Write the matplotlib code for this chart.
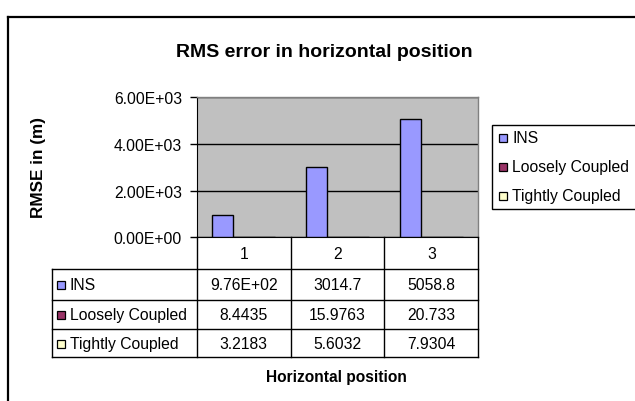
import matplotlib
matplotlib.use("Agg")
import matplotlib.pyplot as plt
from matplotlib.lines import Line2D
from matplotlib.patches import Rectangle
import matplotlib.transforms as mtransforms
import numpy as np

# ---- data ----
categories = ["1", "2", "3"]
series_names = ["INS", "Loosely Coupled", "Tightly Coupled"]
ins = [976.0, 3014.7, 5058.8]
loosely = [8.4435, 15.9763, 20.733]
tightly = [3.2183, 5.6032, 7.9304]
ins_labels = ["9.76E+02", "3014.7", "5058.8"]
loosely_labels = ["8.4435", "15.9763", "20.733"]
tightly_labels = ["3.2183", "5.6032", "7.9304"]
yticks = [0, 2000, 4000, 6000]
ytick_labels = ["0.00E+00", "2.00E+03", "4.00E+03", "6.00E+03"]
colors = ["#9999FF", "#993366", "#FFFFCC"]

W, H = 635, 402
plt.rcParams['font.family'] = ['Liberation Sans', 'DejaVu Sans']
fig = plt.figure(figsize=(W / 100, H / 100), dpi=100)
fig.patch.set_facecolor("white")

# pixel-based transform (origin top-left)
pix = mtransforms.Affine2D().scale(1.0 / W, -1.0 / H).translate(0, 1) + fig.transFigure

# outer chart border (extends beyond image on right/bottom)
fig.add_artist(Line2D([8, 8], [18, 420], transform=pix, color="black", lw=1.6))
fig.add_artist(Line2D([8, 660], [18, 18], transform=pix, color="black", lw=1.6))

# plot area
L, R, T, B = 196.7, 478.3, 98.3, 238.3
ax = fig.add_axes([L / W, 1 - B / H, (R - L) / W, (B - T) / H])
ax.set_facecolor("#C0C0C0")
ax.set_xlim(-0.5, len(categories) - 0.5)
ax.set_ylim(0, 6000)

x = np.arange(len(categories))
bw = 0.224
for i, (vals, col) in enumerate(zip([ins, loosely, tightly], colors)):
    ax.bar(x + (i - 1) * bw, vals, width=bw, color=col, edgecolor="black",
           linewidth=1.0, zorder=3)

ax.set_yticks(yticks)
ax.set_yticklabels(ytick_labels, fontsize=11.3)
ax.tick_params(axis="y", direction="out", length=5, width=1, pad=5.5)
ax.set_xticks([])
ax.yaxis.grid(True, color="black", linewidth=1.0, zorder=1)
ax.set_axisbelow(True)
for side in ["top", "right"]:
    ax.spines[side].set_color("#808080")
    ax.spines[side].set_linewidth(1.0)
ax.spines["left"].set_color("black")
ax.spines["bottom"].set_color("black")

# title and labels
fig.text(324 / W, 1 - 52.5 / H, "RMS error in horizontal position", ha="center",
         va="center", fontsize=14, fontweight="bold")
fig.text(38 / W, 1 - 168 / H, "RMSE in (m)", ha="center", va="center",
         rotation=90, fontsize=12.3, fontweight="bold")
fig.text(336 / W, 1 - 378 / H, "Horizontal position", ha="center", va="center",
         fontsize=11.2, fontweight="bold")

# ---- data table below the axes ----
blend = mtransforms.blended_transform_factory(ax.transData, pix)
row_tops = [239, 270, 300.5, 330, 358]
tab_left = 51.7
lw = 1.0
edges = np.arange(len(categories) + 1) - 0.5
# category row verticals
for e in edges:
    fig.add_artist(Line2D([e, e], [B, row_tops[-1]], transform=blend, color="black", lw=lw))
# horizontal lines
for yy in row_tops[1:]:
    fig.add_artist(Line2D([tab_left, R], [yy, yy], transform=pix, color="black", lw=lw))
fig.add_artist(Line2D([tab_left, tab_left], [row_tops[1], row_tops[-1]], transform=pix, color="black", lw=lw))

cat_y = (B + row_tops[1]) / 2 + 0.5
for xi, c in zip(x, categories):
    fig.text(xi, cat_y, c, transform=blend, ha="center", va="center", fontsize=11.3)

table_rows = [ins_labels, loosely_labels, tightly_labels]
for r, (name, labels, col) in enumerate(zip(series_names, table_rows, colors)):
    yc = (row_tops[r + 1] + row_tops[r + 2]) / 2 + 0.5
    fig.add_artist(Rectangle((57, yc - 4), 8, 8, transform=pix, facecolor=col,
                             edgecolor="black", lw=0.9))
    fig.text(69.5 / W, 1 - yc / H, name, ha="left", va="center", fontsize=11.3)
    for xi, lab in zip(x, labels):
        fig.text(xi, yc, lab, transform=blend, ha="center", va="center", fontsize=11.3)

# ---- legend ----
fig.add_artist(Rectangle((491.7, 125.7), 200, 84.3, transform=pix, facecolor="white",
                         edgecolor="black", lw=1.0))
leg_y = [139, 168, 197]
for name, col, yy in zip(series_names, colors, leg_y):
    fig.add_artist(Rectangle((499, yy - 4), 8, 8, transform=pix, facecolor=col,
                             edgecolor="black", lw=0.9))
    fig.text(512.5 / W, 1 - yy / H, name, ha="left", va="center", fontsize=11.3)

fig.savefig("out.png", dpi=100, facecolor="white")
